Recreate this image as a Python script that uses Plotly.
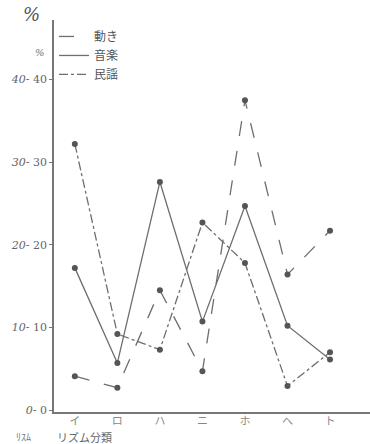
import plotly.graph_objects as go

categories = ["イ", "ロ", "ハ", "ニ", "ホ", "ヘ", "ト"]
ugoki = [4.1, 2.7, 14.5, 4.7, 37.5, 16.4, 21.7]      # 動き (long dash)
ongaku = [17.2, 5.7, 27.6, 10.7, 24.7, 10.2, 6.1]    # 音楽 (solid)
minyo = [32.2, 9.2, 7.3, 22.7, 17.8, 2.9, 7.0]       # 民謡 (dash-dot)
ytick_vals = [0, 10, 20, 30, 40]
ytick_text = ["<i>0</i>- 0", "<i>10</i>- 10", "<i>20</i>- 20", "<i>30</i>- 30", "<i>40</i>- 40"]

xs = list(range(len(categories)))
JP = "Noto Sans CJK JP"
LC = "#6e6e6e"

fig = go.Figure()
series = [("動き", ugoki, "longdash"), ("音楽", ongaku, "solid"), ("民謡", minyo, "dashdot")]
for name, vals, dash in series:
    fig.add_trace(go.Scatter(
        x=xs, y=vals, mode="lines+markers", showlegend=False,
        line=dict(color=LC, width=1.3, dash=dash),
        marker=dict(color="#555555", size=6),
    ))
for name, vals, dash in series:
    fig.add_trace(go.Scatter(
        x=[None], y=[None], mode="lines", name=name,
        line=dict(color=LC, width=1.3, dash=dash),
    ))

fig.update_layout(
    width=370, height=444,
    margin=dict(l=54, r=0, t=20, b=32),
    paper_bgcolor="white", plot_bgcolor="white",
    font=dict(family=JP, color="#555555", size=12),
    xaxis=dict(
        range=[-0.49, 6.94], tickvals=xs, ticktext=categories, automargin=False,
        showgrid=False, zeroline=False, showline=True, linecolor="#777777", linewidth=1.5,
        ticks="", tickfont=dict(size=11, color="#888888"), ticklabelstandoff=-2,
    ),
    yaxis=dict(
        range=[-0.24, 47.2], tickvals=ytick_vals, ticktext=ytick_text, automargin=False,
        showgrid=False, zeroline=False, showline=True, linecolor="#777777", linewidth=1.5,
        ticks="outside", ticklen=3, tickcolor="#777777",
        tickfont=dict(size=11, color="#666666", family="DejaVu Serif"),
    ),
    legend=dict(
        x=0.0, y=0.995, xanchor="left", yanchor="top",
        bgcolor="rgba(0,0,0,0)", font=dict(size=12, family=JP, color="#555555"),
        itemwidth=30, tracegroupgap=0,
    ),
)

fig.add_annotation(xref="paper", yref="paper", x=-0.07, y=1.013, xanchor="center", yanchor="middle",
                   text="<i>%</i>", showarrow=False,
                   font=dict(size=18, color="#555555", family="DejaVu Serif"))
fig.add_annotation(xref="paper", yref="paper", x=-0.044, y=0.918, xanchor="center", yanchor="middle",
                   text="<i>%</i>", showarrow=False,
                   font=dict(size=10, color="#777777", family="DejaVu Serif"))
fig.add_annotation(xref="paper", yref="paper", x=-0.095, y=-0.063, xanchor="center", yanchor="middle",
                   text="ﾘｽﾑ", showarrow=False, font=dict(size=10, color="#777777", family=JP))
fig.add_annotation(xref="paper", yref="paper", x=0.095, y=-0.064, xanchor="center", yanchor="middle",
                   text="リズム分類", showarrow=False, font=dict(size=11, color="#666666", family=JP))

fig.write_html("out.html", config={"displayModeBar": False},
               post_script="document.body.style.margin='0';document.body.style.overflow='hidden';")
